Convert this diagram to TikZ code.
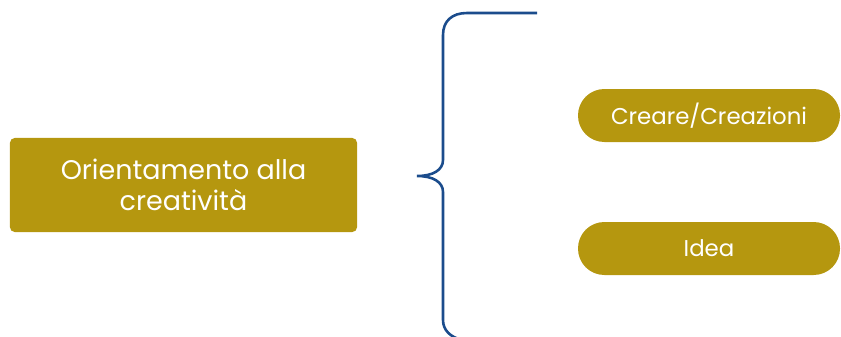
\documentclass[tikz,border=0pt]{standalone}
\usepackage{fontspec}
\setmainfont{Poppins}
\definecolor{ocra}{HTML}{B5970F}
\definecolor{blu}{HTML}{1B4C8C}

\begin{document}
\begin{tikzpicture}[x=0.03cm,y=-0.03cm,
        box/.style={fill=ocra, text=white, rounded corners=4, inner sep=0pt,
            font=\fontsize{23}{27}\selectfont, align=center},
        pill/.style={fill=ocra, text=white, rounded corners=0.79cm, inner sep=0pt,
            minimum width=7.86cm, minimum height=1.59cm, font=\fontsize{19.5}{23}\selectfont}]
        \useasboundingbox (0,0) rectangle (841,337);
        \clip (0,0) rectangle (841,337);

        \coordinate (T) at (537,13);
        \coordinate (P) at (417,176);

        \node[box, minimum width=10.41cm, minimum height=2.82cm] (orient) at (183.5,185)
            {Orientamento alla\\creatività};
        \node[pill] (creare) at (709,115.5) {Creare/Creazioni};
        \node[pill] (idea) at (709,248.5) {Idea};

        \draw[blu, line width=2.2pt] (T) -- (467,13)
            .. controls (452,13) and (443,21) .. (443,35) -- (443,160)
            .. controls (443,170) and (433,176) .. (P)
            .. controls (433,176) and (443,182) .. (443,192) -- (443,320)
            .. controls (443,330) and (450,337) .. (462,340);

    \end{tikzpicture}
\end{document}
